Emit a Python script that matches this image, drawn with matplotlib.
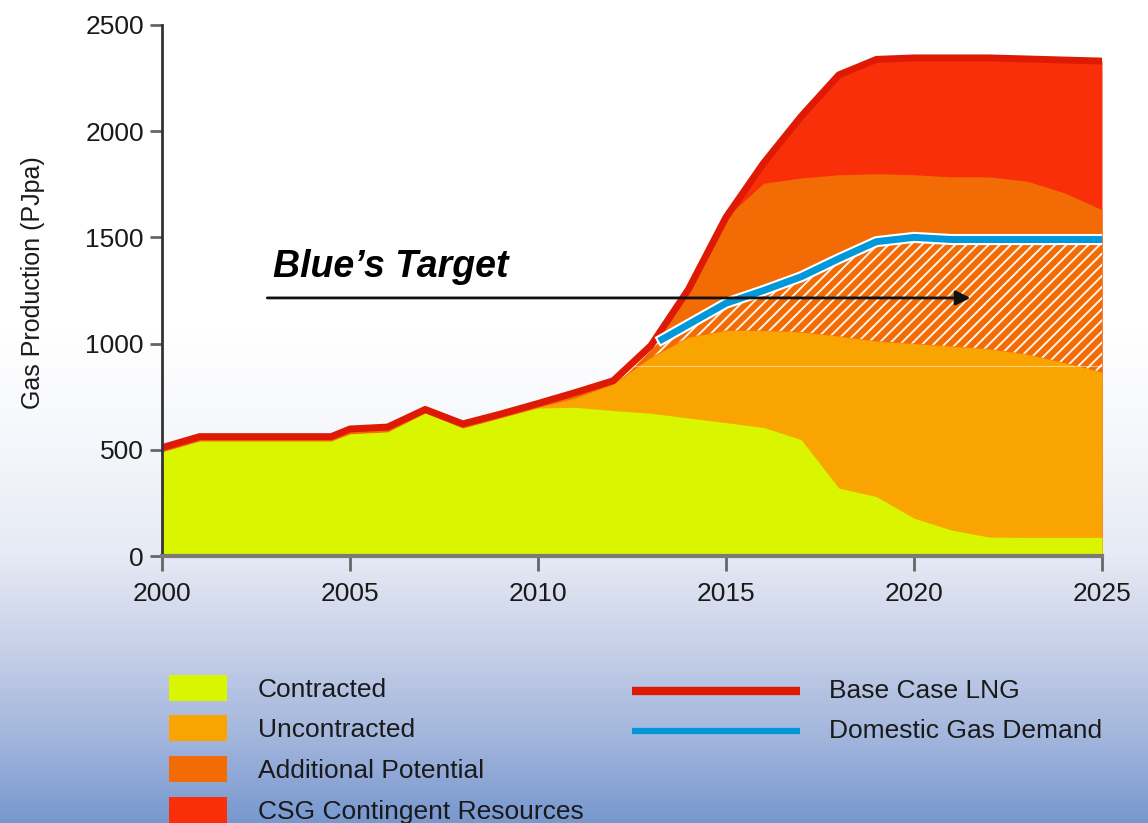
import numpy as np
import matplotlib
matplotlib.use("Agg")
import matplotlib.pyplot as plt
import matplotlib.patheffects as pe
from matplotlib.colors import LinearSegmentedColormap
from matplotlib.patches import Rectangle

plt.rcParams['font.family'] = ['Liberation Sans', 'DejaVu Sans']
plt.rcParams['hatch.linewidth'] = 1.4

# data (PJ per annum, cumulative tops of each stacked layer)
years = [2000, 2001, 2002, 2003, 2004, 2004.5, 2005, 2006, 2007, 2008, 2009, 2010, 2011,
         2012, 2013, 2014, 2015, 2016, 2017, 2018, 2019, 2020, 2021, 2022, 2023, 2024, 2025]
contracted = [490, 541, 541, 541, 541, 541, 575, 584, 673, 602, 650, 697, 700,
              685, 672, 650, 628, 605, 548, 320, 280, 178, 122, 89, 88, 88, 88]
uncontracted_top = [490, 541, 541, 541, 541, 541, 575, 584, 673, 602, 650, 700, 745,
                    810, 935, 1030, 1062, 1062, 1055, 1035, 1012, 1000, 988, 975, 950, 910, 866]
additional_top = [510, 562, 562, 562, 562, 562, 598, 607, 690, 622, 668, 718, 770,
                  825, 990, 1255, 1595, 1755, 1780, 1795, 1800, 1795, 1785, 1785, 1765, 1710, 1630]
lng_total = [510, 562, 562, 562, 562, 562, 598, 607, 690, 622, 668, 718, 770,
             825, 990, 1255, 1595, 1850, 2070, 2265, 2338, 2345, 2345, 2345, 2340, 2335, 2330]

demand_years = [2013.3, 2014, 2015, 2016, 2017, 2018, 2019, 2020, 2021, 2022, 2023, 2024, 2025]
domestic_demand = [1020, 1090, 1190, 1250, 1315, 1400, 1480, 1500, 1490, 1490, 1490, 1490, 1490]

target_from, target_to, target_level = 2002.8, 2021.5, 1215

layer_labels = ["Contracted", "Uncontracted", "Additional Potential", "CSG Contingent Resources"]
line_labels = ["Base Case LNG", "Domestic Gas Demand"]

C_CONTR = "#D9F500"
C_UNCON = "#F9A400"
C_ADD = "#F26B05"
C_CSG = "#F82F08"
C_LNG = "#DF1A04"
C_DEM = "#0098DA"

fig = plt.figure(figsize=(11.48, 8.23), dpi=100)

# background gradient (white on top, blue at the bottom)
bg = fig.add_axes([0, 0, 1, 1], zorder=-10)
stops = [(0.0, "#FFFFFF"), (330 / 823, "#FFFFFF"), (450 / 823, "#F4F6FB"),
         (556 / 823, "#E6EAF4"), (650 / 823, "#C6D0E8"), (740 / 823, "#A2B5DC"), (1.0, "#7898CF")]
cmap = LinearSegmentedColormap.from_list("bg", stops)
grad = np.linspace(0, 1, 823).reshape(-1, 1)
bg.imshow(grad, cmap=cmap, aspect="auto", extent=[0, 1, 0, 1], origin="upper")
bg.axis("off")

ax = fig.add_axes([162 / 1148, 1 - 556 / 823, 940 / 1148, 531 / 823])
ax.set_facecolor("none")

x = np.array(years, dtype=float)
y_con = np.array(contracted, dtype=float)
y_unc = np.array(uncontracted_top, dtype=float)
y_add = np.array(additional_top, dtype=float)
y_tot = np.array(lng_total, dtype=float)

ax.fill_between(x, 0, y_tot, color=C_CSG, lw=0, zorder=1)
ax.fill_between(x, 0, y_add, color=C_ADD, lw=0, zorder=2)
ax.fill_between(x, 0, y_unc, color=C_UNCON, lw=0, zorder=3)
ax.fill_between(x, 0, y_con, color=C_CONTR, lw=0, zorder=4)

# hatched part of the additional potential, below domestic demand
hatch_top = np.minimum(y_tot, np.interp(x, demand_years, domestic_demand, left=np.inf))
ax.fill_between(x, y_unc, hatch_top, where=x >= 2012, interpolate=True,
                facecolor="none", edgecolor="#FFF4E8", hatch="///", lw=0, zorder=3.5)

ax.axhline(895, color="white", lw=0.8, alpha=0.5, zorder=4.5)

ax.plot(x, y_tot, color=C_LNG, lw=5, solid_joinstyle="round", zorder=6)
ax.plot(demand_years, domestic_demand, color=C_DEM, lw=5, zorder=7,
        path_effects=[pe.Stroke(linewidth=8, foreground="white"), pe.Normal()])

ax.annotate("", xy=(target_to, target_level), xytext=(target_from, target_level),
            arrowprops=dict(arrowstyle="-|>", color="#111111", lw=2, mutation_scale=22,
                            shrinkA=0, shrinkB=0), zorder=8)
ax.text(target_from + 0.15, 1313, "Blue\u2019s Target", fontsize=27, fontweight="bold",
        fontstyle="italic", color="black", va="baseline", ha="left", zorder=8)

ax.set_xlim(2000, 2025)
ax.set_ylim(0, 2500)
ax.set_xticks(range(2000, 2026, 5))
ax.set_yticks(range(0, 2501, 500))
for s in ["top", "right"]:
    ax.spines[s].set_visible(False)
ax.spines["left"].set_color("#333333")
ax.spines["left"].set_linewidth(2)
ax.spines["bottom"].set_color("#7a7a7a")
ax.spines["bottom"].set_linewidth(3)
ax.spines["bottom"].set_zorder(9)
ax.spines["left"].set_zorder(9)
ax.tick_params(axis="y", length=9, width=2, color="#666666", labelsize=19, pad=4,
               labelcolor="#1a1a1a")
ax.tick_params(axis="x", length=11, width=2, color="#666666", labelsize=19, pad=8,
               labelcolor="#1a1a1a")

fig.text(33 / 1148, 1 - 283 / 823, "Gas Production (PJpa)", rotation=90, fontsize=18,
         color="#1a1a1a", ha="center", va="center")

# legend drawn in figure pixel space
lax = fig.add_axes([0, 0, 1, 1], zorder=20)
lax.set_xlim(0, 1148)
lax.set_ylim(823, 0)
lax.axis("off")
lax.set_facecolor("none")

patch_rows = [688, 728, 769, 810]
for lab, col, yc in zip(layer_labels, [C_CONTR, C_UNCON, C_ADD, C_CSG], patch_rows):
    lax.add_patch(Rectangle((169, yc - 13), 58, 26, facecolor=col, edgecolor="none"))
    lax.text(258, yc + 2, lab, fontsize=19, color="#1a1a1a", va="center", ha="left")

for lab, col, lw, yc in zip(line_labels, [C_LNG, C_DEM], [6, 4.5], [691, 731]):
    lax.plot([632, 800], [yc, yc], color=col, lw=lw, solid_capstyle="butt")
    lax.text(829, yc, lab, fontsize=19, color="#1a1a1a", va="center", ha="left")

fig.savefig("out.png", dpi=100)
